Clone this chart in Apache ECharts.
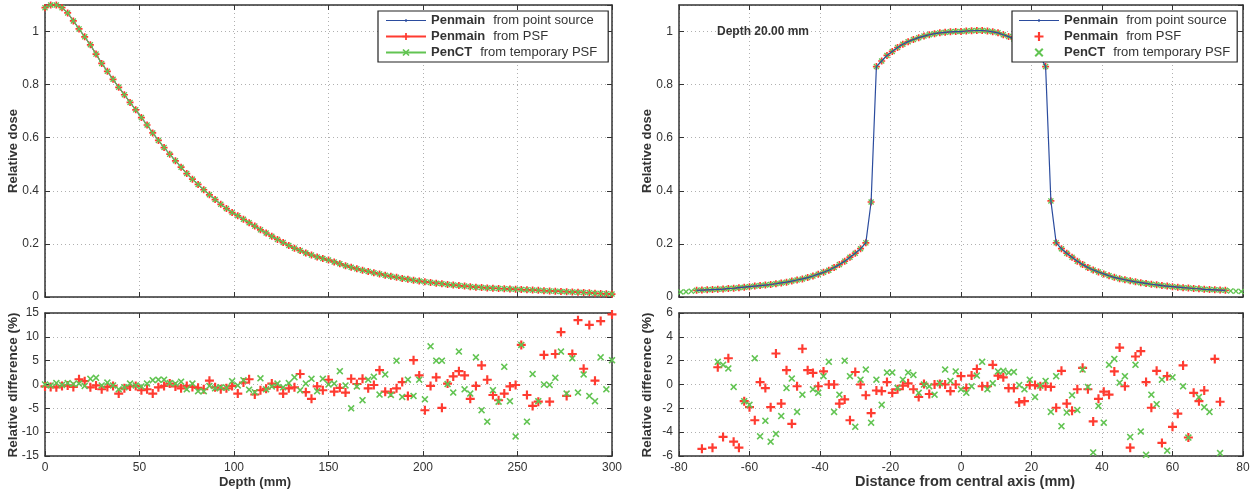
<!DOCTYPE html>
<html><head><meta charset="utf-8">
<script src="https://cdn.jsdelivr.net/npm/echarts@6/dist/echarts.min.js"></script>
<style>html,body{margin:0;padding:0;background:#fff}#c{width:1254px;height:496px}</style>
</head><body><div id="c"></div><script>
// ---------- data ----------
const depthX = [0,3,6,9,12,15,18,21,24,27,30,33,36,39,42,45,48,51,54,57,60,63,66,69,72,75,78,81,84,87,90,93,96,99,102,105,108,111,114,117,120,123,126,129,132,135,138,141,144,147,150,153,156,159,162,165,168,171,174,177,180,183,186,189,192,195,198,201,204,207,210,213,216,219,222,225,228,231,234,237,240,243,246,249,252,255,258,261,264,267,270,273,276,279,282,285,288,291,294,297,300];
const doseDepth = [1.090,1.100,1.100,1.090,1.070,1.040,1.010,0.980,0.950,0.915,
  0.880,0.850,0.820,0.790,0.762,0.733,0.705,0.676,0.648,0.618,
  0.590,0.563,0.538,0.513,0.489,0.465,0.444,0.424,0.404,0.385,
  0.367,0.349,0.333,0.318,0.306,0.293,0.280,0.267,0.253,0.241,
  0.229,0.217,0.205,0.194,0.184,0.175,0.166,0.158,0.151,0.145,
  0.139,0.132,0.125,0.118,0.112,0.106,0.101,0.096,0.091,0.087,
  0.082,0.078,0.074,0.070,0.067,0.063,0.060,0.057,0.055,0.052,
  0.050,0.047,0.045,0.043,0.041,0.039,0.037,0.036,0.034,0.033,
  0.032,0.031,0.030,0.029,0.028,0.027,0.026,0.025,0.024,0.023,
  0.022,0.021,0.020,0.019,0.018,0.017,0.016,0.014,0.013,0.012,
  0.011];
const diffDepthRed = [-0.4,-0.5,-0.6,-0.3,-0.2,-0.5,1.1,0.7,-0.6,-0.2,
  -1.0,-0.5,-0.3,-1.9,-0.8,-0.4,-0.3,-1.2,-1.0,-1.9,
  -0.6,-0.3,0.2,-0.4,-0.8,-0.3,-0.5,-0.7,-1.0,0.8,
  -0.6,-1.0,-0.8,-0.3,-1.9,0.4,1.1,-2.1,-1.2,-0.9,
  0.2,-0.5,-1.9,-0.8,-0.6,2.2,-1.6,-3.0,-0.4,-1.2,
  1.0,-1.5,-0.7,-1.7,1.2,0.1,1.2,-0.8,-0.1,3.0,
  -1.5,-1.7,-0.8,0.5,-2.4,5.1,1.9,-5.4,-0.3,1.5,
  -4.9,0.2,1.7,2.8,1.9,-3.0,-0.3,4.0,1.0,-2.2,
  -3.3,-1.9,-0.4,-0.1,8.3,-2.2,-4.5,-3.6,6.2,-3.6,
  6.4,11.0,-2.4,6.4,13.5,3.3,12.5,0.8,13.3,null,
  14.7];
const diffDepthGreen = [0.0,-0.2,0.3,-0.1,0.3,0.1,0.2,-0.3,1.2,1.4,
  -0.2,0.4,-0.2,-1.0,-0.6,0.2,-0.2,-0.4,0.2,0.9,
  1.0,1.0,0.3,0.2,0.6,-1.0,0.2,-1.4,-1.4,-0.3,
  -0.8,-0.6,-0.7,0.7,-0.2,0.9,-1.1,-1.6,1.3,-1.0,
  -0.4,0.2,-0.6,0.3,1.5,-1.2,0.2,1.2,-1.4,1.2,
  0.0,0.2,2.8,-0.2,-5.0,-0.4,-3.3,1.0,1.6,-2.1,
  2.1,-2.2,5.0,-2.6,1.0,-2.4,1.0,-3.1,8.0,5.0,
  5.0,0.1,-1.7,6.9,-1.0,-1.9,5.7,-5.4,-7.8,-1.2,
  -3.6,3.7,-3.5,-10.9,8.3,-7.8,2.2,-3.5,0.0,-0.1,
  1.4,6.9,-1.9,5.5,-1.7,2.1,-2.4,-3.5,5.7,-1.0,
  5.1];

const profileX = [-75,-73.5,-72,-70.5,-69,-67.5,-66,-64.5,-63,-61.5,-60,-58.5,-57,-55.5,-54,-52.5,-51,-49.5,-48,-46.5,-45,-43.5,-42,-40.5,-39,-37.5,-36,-34.5,-33,-31.5,-30,-28.5,-27,-25.5,-24,-22.5,-21,-19.5,-18,-16.5,-15,-13.5,-12,-10.5,-9,-7.5,-6,-4.5,-3,-1.5,0,1.5,3,4.5,6,7.5,9,10.5,12,13.5,15,16.5,18,19.5,21,22.5,24,25.5,27,28.5,30,31.5,33,34.5,36,37.5,39,40.5,42,43.5,45,46.5,48,49.5,51,52.5,54,55.5,57,58.5,60,61.5,63,64.5,66,67.5,69,70.5,72,73.5,75];
const doseProfile = [0.025,0.026,0.027,0.028,0.029,0.030,0.032,0.033,0.035,0.037,
  0.039,0.041,0.043,0.045,0.047,0.050,0.053,0.056,0.060,0.064,
  0.068,0.073,0.079,0.086,0.093,0.101,0.111,0.122,0.135,0.150,
  0.165,0.182,0.204,0.358,0.868,0.889,0.910,0.925,0.940,0.952,
  0.962,0.970,0.977,0.983,0.988,0.992,0.995,0.997,0.999,1.000,
  1.000,1.002,1.003,1.004,1.004,1.002,0.999,0.995,0.988,0.981,
  0.972,0.963,0.952,0.940,0.925,0.905,0.868,0.362,0.204,0.182,
  0.165,0.150,0.135,0.122,0.111,0.102,0.094,0.087,0.080,0.074,
  0.069,0.065,0.061,0.057,0.054,0.051,0.048,0.046,0.043,0.041,
  0.039,0.037,0.035,0.034,0.032,0.031,0.029,0.028,0.027,0.026,
  0.025];
const greenEdgeLeftX = [-79.5,-78,-76.5];
const greenEdgeLeft = [0.019,0.020,0.022];
const greenEdgeRightX = [76.5,78,79.5];
const greenEdgeRight = [0.023,0.022,0.021];
const diffProfRed = [null,-5.4,null,-5.3,1.45,-4.4,2.2,-4.8,-5.3,-1.4,
  -1.9,-3.0,0.2,-0.3,-1.9,2.6,-1.6,1.2,-3.3,-0.15,
  3.0,1.2,0.97,-0.15,1.1,0,0,-1.6,-1.25,-3.0,
  1.05,0,-0.9,-2.4,-0.5,-0.55,0.2,-0.7,-0.4,-0.1,
  0.1,-0.4,-1.05,0.05,-0.8,0,0.05,0,-0.55,0,
  0.7,-0.3,0.75,1.3,-0.15,-0.15,1.65,0.75,0.6,-0.3,
  -0.3,-1.5,-1.4,-0.05,-0.05,-0.15,-0.15,-0.2,-1.95,1.15,
  -1.6,-2.2,-0.4,1.4,-0.4,-3.1,-1.2,-0.6,-0.85,1.1,
  3.1,-0.15,-5.3,2.35,2.8,0.2,-1.95,1.15,-4.9,0.7,
  -3.55,-2.45,1.6,-4.45,-0.7,-1.4,-0.5,null,2.15,-1.45,
  null];
const diffProfGreen = [null,null,null,null,1.9,1.65,1.35,-0.2,null,-1.4,
  -1.7,2.2,-4.35,-3.05,-4.8,-4.15,-2.65,-0.3,0.5,-2.3,
  -0.85,null,-0.4,-0.7,0.7,1.9,-2.3,-0.85,2.0,0.7,
  -3.55,0.4,1.25,-3.2,0.4,-1.7,1.0,1.0,-0.3,0.4,
  1.0,0.8,-0.7,0,-0.15,-0.85,0.1,1.25,0.3,1.1,
  -0.4,-0.7,-0.15,0.75,1.9,-0.4,0.1,1.1,1.15,1.0,
  1.05,-0.05,-0.4,0.4,-1.05,-0.1,0.3,-2.3,0.7,-3.5,
  -2.35,-0.9,-2.15,1.25,-0.2,-5.7,-1.8,-3.2,1.65,2.15,
  0.15,0.7,-4.4,1.65,-3.95,-5.9,-0.85,-1.65,0.4,-5.55,
  0.6,null,-0.15,-4.45,null,-1.05,-1.9,-2.3,null,-5.75,
  null];

const legendNames = ['Penmain|from point source','Penmain|from PSF','PenCT|from temporary PSF'];
const legendNamesRight = legendNames.map(n => n + ' ');

// ---------- styling ----------
const FONT = 'Liberation Sans, Arial, Helvetica, sans-serif';
const BLUE = '#2b4c9e', RED = '#ff3b30', GREEN = '#62c452';
const PLUS = 'path://M3.8,0H6.2V3.8H10V6.2H6.2V10H3.8V6.2H0V3.8H3.8Z';
const XMARK = 'path://M0,1.6L1.6,0L5,3.4L8.4,0L10,1.6L6.6,5L10,8.4L8.4,10L5,6.6L1.6,10L0,8.4L3.4,5Z';
const LINE_ICON = 'path://M0,4.4H40V5.6H0Z M19.2,3.8H20.8V6.2H19.2Z';

function pairs(xs, ys) {
  const out = [];
  xs.forEach((x, i) => { if (ys[i] !== null && ys[i] !== undefined) out.push([x, ys[i]]); });
  return out;
}

const lineAx = {show:true, onZero:false, lineStyle:{color:'#333', width:1.5}};
const tickAx = {show:true, inside:true, length:5, lineStyle:{color:'#333', width:1}};
const splitAx = {show:true, lineStyle:{color:'#b0b0b0', width:1, type:[1,3]}};
const xAxes = [], yAxes = [];
function addX(gi, min, max, iv, showLabel) {
  xAxes.push({type:'value', gridIndex:gi, min, max, interval:iv, position:'bottom',
    axisLine:lineAx, axisTick:tickAx, splitLine:splitAx,
    axisLabel:{show:showLabel, color:'#333', fontSize:12, fontFamily:FONT, margin:6}});
  xAxes.push({type:'value', gridIndex:gi, min, max, interval:iv, position:'top',
    axisLine:lineAx, axisTick:tickAx, splitLine:{show:false}, axisLabel:{show:false}});
}
function addY(gi, min, max, iv, hideMax) {
  yAxes.push({type:'value', gridIndex:gi, min, max, interval:iv, position:'left',
    axisLine:lineAx, axisTick:tickAx, splitLine:splitAx,
    axisLabel:{color:'#333', fontSize:12, fontFamily:FONT, margin:6, showMaxLabel:!hideMax}});
  yAxes.push({type:'value', gridIndex:gi, min, max, interval:iv, position:'right',
    axisLine:lineAx, axisTick:tickAx, splitLine:{show:false}, axisLabel:{show:false}});
}
addX(0, 0, 300, 50, false);   addY(0, 0, 1.1, 0.2, true);
addX(1, 0, 300, 50, true);    addY(1, -15, 15, 5, false);
addX(2, -80, 80, 20, false);  addY(2, 0, 1.1, 0.2, true);
addX(3, -80, 80, 20, true);   addY(3, -6, 6, 2, false);

function legendCfg(names, left, padRight) {
  const data = names.map((n, i) => (i === 0 ? {name:n, icon:LINE_ICON} : {name:n}));
  return {
    data, orient:'vertical', left, top:11, z:20,
    backgroundColor:'#fff', borderColor:'#222', borderWidth:1.2, borderRadius:0,
    padding:[3,padRight,3,7], itemWidth:40, itemHeight:9, itemGap:3, selectedMode:false,
    formatter: n => { const p = n.trim().split('|'); return '{b|' + p[0] + '}{n|' + p[1] + '}'; },
    textStyle:{fontFamily:FONT, fontSize:13, color:'#333', rich:{
      b:{fontFamily:FONT, fontSize:13, fontWeight:'bold', color:'#333', padding:[0,8,0,0]},
      n:{fontFamily:FONT, fontSize:13, color:'#333'}}}
  };
}

const series = [
  {type:'line', name:legendNames[0], xAxisIndex:0, yAxisIndex:0, data:pairs(depthX, doseDepth),
    symbol:'none', lineStyle:{color:BLUE, width:1.2}, itemStyle:{color:BLUE}},
  {type:'line', name:legendNames[1], xAxisIndex:0, yAxisIndex:0, data:pairs(depthX, doseDepth),
    symbol:PLUS, symbolSize:7, lineStyle:{color:RED, width:1}, itemStyle:{color:RED}},
  {type:'line', name:legendNames[2], xAxisIndex:0, yAxisIndex:0, data:pairs(depthX, doseDepth),
    symbol:XMARK, symbolSize:6, lineStyle:{color:GREEN, width:1}, itemStyle:{color:GREEN}},
  {type:'scatter', name:legendNames[1], xAxisIndex:2, yAxisIndex:2, data:pairs(depthX, diffDepthRed),
    symbol:PLUS, symbolSize:9, itemStyle:{color:RED, opacity:1}},
  {type:'scatter', name:legendNames[2], xAxisIndex:2, yAxisIndex:2, data:pairs(depthX, diffDepthGreen),
    symbol:XMARK, symbolSize:7, itemStyle:{color:GREEN, opacity:1}},
  {type:'line', name:legendNamesRight[0], xAxisIndex:4, yAxisIndex:4, data:pairs(profileX, doseProfile),
    symbol:'none', lineStyle:{color:BLUE, width:1.2}, itemStyle:{color:BLUE}},
  {type:'scatter', name:legendNamesRight[1], xAxisIndex:4, yAxisIndex:4, data:pairs(profileX, doseProfile),
    symbol:PLUS, symbolSize:7, itemStyle:{color:RED, opacity:1}},
  {type:'scatter', name:legendNamesRight[2], xAxisIndex:4, yAxisIndex:4,
    data:pairs(greenEdgeLeftX, greenEdgeLeft).concat(pairs(profileX, doseProfile), pairs(greenEdgeRightX, greenEdgeRight)),
    symbol:XMARK, symbolSize:6, itemStyle:{color:GREEN, opacity:1}},
  {type:'scatter', name:legendNamesRight[1], xAxisIndex:6, yAxisIndex:6, data:pairs(profileX, diffProfRed),
    symbol:PLUS, symbolSize:9, itemStyle:{color:RED, opacity:1}},
  {type:'scatter', name:legendNamesRight[2], xAxisIndex:6, yAxisIndex:6, data:pairs(profileX, diffProfGreen),
    symbol:XMARK, symbolSize:7, itemStyle:{color:GREEN, opacity:1}}
];

function label(text, x, y, rot, size) {
  return {type:'text', x, y, rotation: rot ? Math.PI/2 : 0, z:30,
    style:{text, fontFamily:FONT, fontSize:size || 13, fontWeight:'bold', fill:'#333', textAlign:'center', textVerticalAlign:'middle'}};
}

const option = {
  animation:false,
  backgroundColor:'#fff',
  grid:[
    {left:45, top:5, width:567, height:292},
    {left:45, top:313, width:567, height:143},
    {left:679, top:5, width:564, height:292},
    {left:679, top:313, width:564, height:143}
  ],
  xAxis:xAxes, yAxis:yAxes,
  legend:[legendCfg(legendNames, 378, 11), legendCfg(legendNamesRight, 1012, 7)],
  series,
  graphic:[
    label('Relative dose', 13, 151, true, 13),
    label('Relative difference (%)', 13, 385, true, 13.5),
    label('Relative dose', 647, 151, true, 13),
    label('Relative difference (%)', 647, 385, true, 13.5),
    label('Depth (mm)', 255, 482, false, 13),
    label('Distance from central axis (mm)', 965, 482, false, 14.5),
    {type:'text', x:717, y:32, z:30, style:{text:'Depth 20.00 mm', fontFamily:FONT, fontSize:12, fontWeight:'bold', fill:'#333', textVerticalAlign:'middle'}}
  ]
};
const chart = echarts.init(document.getElementById('c'), null, {renderer:'canvas'});
chart.setOption(option);
</script></body></html>
